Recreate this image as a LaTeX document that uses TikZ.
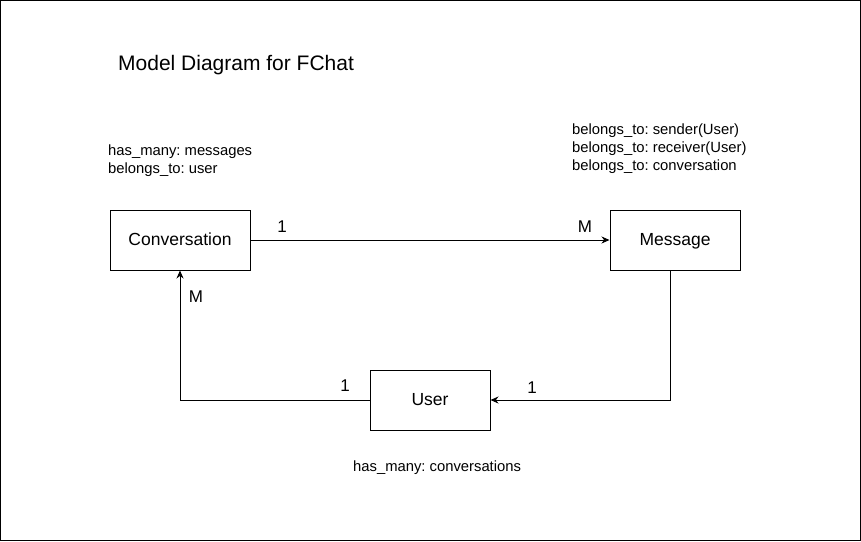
\documentclass[tikz,border=0pt]{standalone}
\usepackage{fontspec}
\setmainfont{Liberation Sans}
\usetikzlibrary{arrows.meta}
\frenchspacing
\begin{document}
\begin{tikzpicture}[x=1pt,y=-1pt,
  entity/.style={draw,line width=1pt,minimum width=#1,minimum height=60pt,inner sep=0pt,text height=13pt,text depth=3pt,font=\fontsize{17.5}{20}\selectfont},
  note/.style={anchor=north west,align=left,inner sep=0pt,font=\fontsize{14.8}{18}\selectfont},
  lbl/.style={inner sep=0pt,font=\fontsize{17}{20}\selectfont},
  conn/.style={line width=1pt,-{Stealth[length=8pt,width=7pt]}}]
\useasboundingbox (0,0) rectangle (861,541);
\draw[line width=1pt] (0.5,0.5) rectangle (860.5,540.5);
\node[anchor=west,inner sep=0pt,font=\fontsize{21}{24}\selectfont] (title) at (118,65) {Model Diagram for FChat};
\node[entity=140pt] (conv) at (180,240) {Conversation};
\node[entity=130pt] (msg) at (675,240) {Message};
\node[entity=120pt] (user) at (430,400) {User};
\node[note] (convnote) at (108,145) {has\_many: messages\\belongs\_to: user};
\node[note] (msgnote) at (572,124) {belongs\_to: sender(User)\\belongs\_to: receiver(User)\\belongs\_to: conversation};
\node[note] (usernote) at (353,461) {has\_many: conversations};
\coordinate (mb) at (670,270);
\coordinate (mc) at (670,400);
\coordinate (cb) at (180,400);
\draw[conn] (conv.east) -- (msg.west);
\draw[conn] (mb) -- (mc) -- (user.east);
\draw[conn] (user.west) -- (cb) -- (conv.south);
\node[lbl] (l1) at (282,227) {1};
\node[lbl] (l2) at (585,227) {M};
\node[lbl] (l3) at (196,297) {M};
\node[lbl] (l4) at (345,386) {1};
\node[lbl] (l5) at (532,388) {1};
\end{tikzpicture}
\end{document}
